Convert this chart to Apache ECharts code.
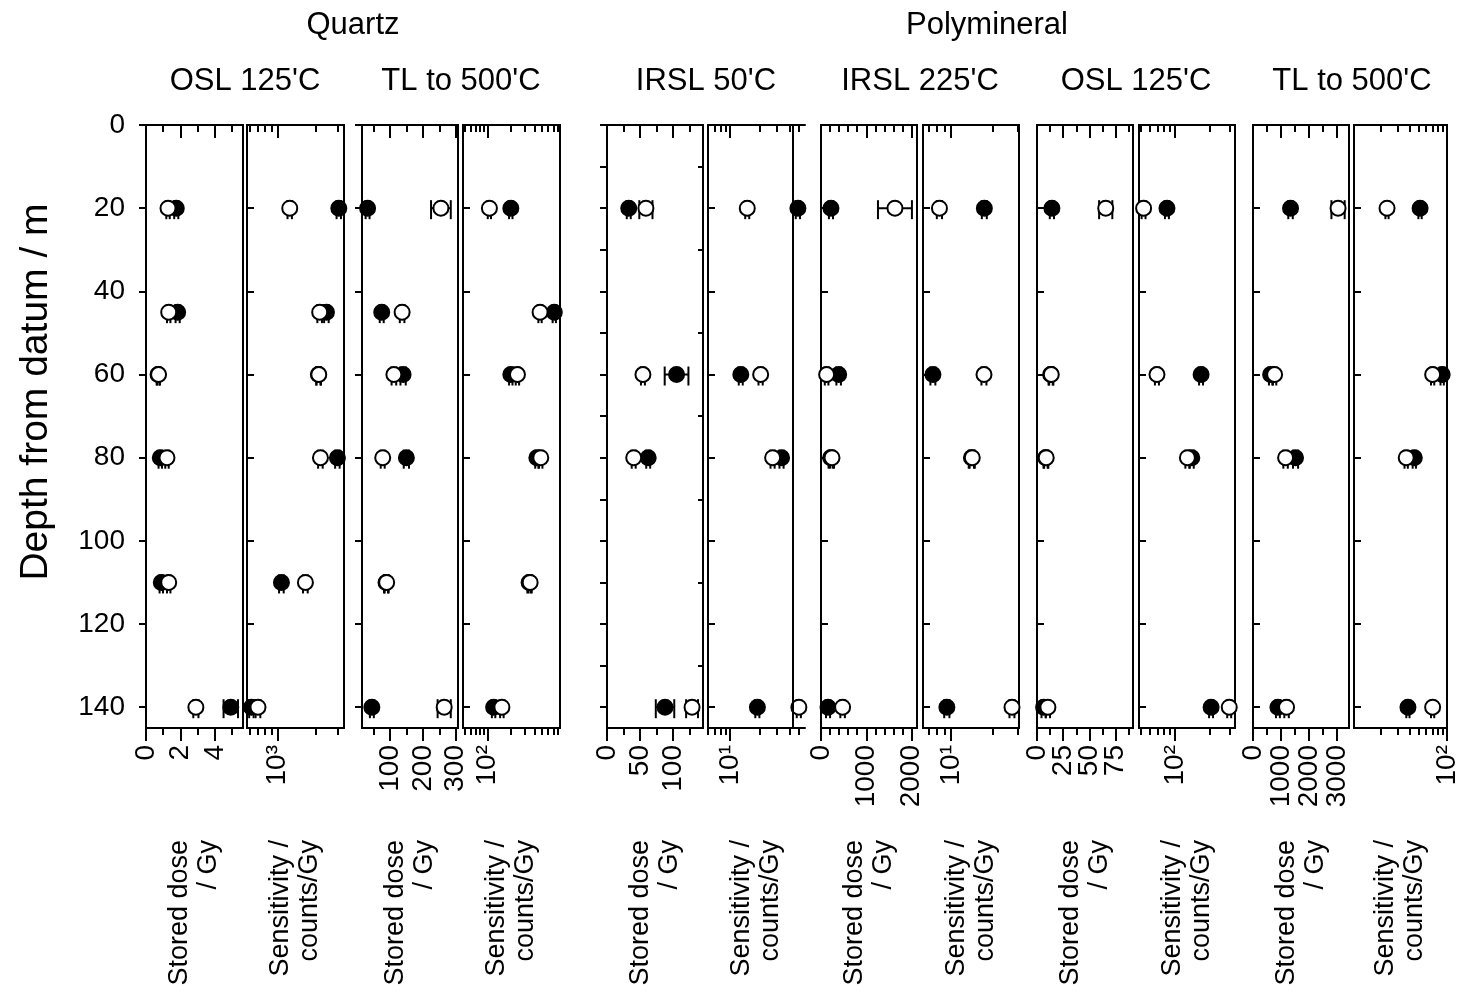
<!DOCTYPE html>
<html>
<head>
<meta charset="utf-8">
<script src="https://cdn.jsdelivr.net/npm/echarts@6/dist/echarts.min.js"></script>
<style>
html, body { margin: 0; padding: 0; background: #fff; }
#chart { width: 1461px; height: 993px; }
</style>
</head>
<body>
<div id="chart"></div>
<script>
// depths of the samples
var quartzDepth = [20, 45, 60, 80, 110, 140];
var polyDepth = [20, 60, 80, 140];

// y axis ticks (depth)
var depthTicks = [0, 20, 40, 60, 80, 100, 120, 140];
var depthTicks10 = [0, 10, 20, 30, 40, 50, 60, 70, 80, 90, 100, 110, 120, 130, 140];
var depthTicksOdd = [10, 30, 50, 70, 90, 110, 130];

// Quartz OSL 125'C - stored dose
var q1Filled = [1.76, 1.84, 0.70, 0.83, 0.89, 4.93];
var q1FilledErr = [0.12, 0.12, 0.08, 0.10, 0.10, 0.42];
var q1Open = [1.28, 1.32, 0.73, 1.22, 1.32, 2.9];
var q1OpenErr = [0.10, 0.10, 0.08, 0.10, 0.10, 0.15];
// Quartz OSL 125'C - sensitivity
var q2Filled = [3040, 2430, 2100, 2965, 1075, 624];
var q2FilledErr = [120, 100, 80, 120, 45, 25];
var q2Open = [1250, 2150, 2115, 2180, 1660, 703];
var q2OpenErr = [50, 90, 85, 90, 70, 30];
// Quartz TL to 500'C - stored dose
var q3Filled = [32, 75, 140, 150, 88, 45];
var q3FilledErr = [6, 6, 8, 8, 6, 6];
var q3Open = [255, 137, 112, 78, 90, 265];
var q3OpenErr = [30, 7, 7, 6, 6, 20];
// Quartz TL to 500'C - sensitivity
var q4Filled = [198, 718, 198, 428, 340, 119];
var q4FilledErr = [10, 35, 10, 20, 17, 6];
var q4Open = [105, 471, 241, 481, 351, 152];
var q4OpenErr = [5, 23, 12, 24, 17, 8];

// Polymineral IRSL 50'C - stored dose
var p5Filled = [33, 105.5, 62.5, 88];
var p5FilledErr = [3, 18, 3, 14];
var p5Open = [59, 54.5, 40.5, 129];
var p5OpenErr = [10, 3, 3, 9];
// Polymineral IRSL 50'C - sensitivity
var p6Filled = [48.9, 12.9, 33.4, 19];
var p6FilledErr = [2.4, 0.6, 1.6, 0.9];
var p6Open = [15, 20.5, 27.1, 50];
var p6OpenErr = [0.7, 1.0, 1.3, 2.4];
// Polymineral IRSL 225'C - stored dose
var p7Filled = [220, 390, 212, 155];
var p7FilledErr = [45, 50, 45, 45];
var p7Open = [1633, 124, 243, 477];
var p7OpenErr = [375, 40, 45, 50];
// Polymineral IRSL 225'C - sensitivity
var p8Filled = [17.3, 7.46, 14.0, 9.37];
var p8FilledErr = [0.7, 0.3, 0.6, 0.4];
var p8Open = [8.3, 17.2, 14.2, 27.2];
var p8OpenErr = [0.35, 0.7, 0.6, 1.1];
// Polymineral OSL 125'C - stored dose
var p9Filled = [14.2, 13.0, 8.2, 6.3];
var p9FilledErr = [2, 2, 2, 2];
var p9Open = [65.5, 13.6, 8.8, 10.4];
var p9OpenErr = [6.3, 2, 2, 2];
// Polymineral OSL 125'C - sensitivity
var p10Filled = [84.6, 169, 140, 207];
var p10FilledErr = [3.4, 6.8, 5.6, 8.3];
var p10Open = [52.7, 69.1, 128, 299];
var p10OpenErr = [2.1, 2.8, 5.1, 12];
// Polymineral TL to 500'C - stored dose
var p11Filled = [1341, 630, 1520, 890];
var p11FilledErr = [80, 60, 90, 70];
var p11Open = [3039, 772, 1164, 1199];
var p11OpenErr = [237, 60, 80, 80];
// Polymineral TL to 500'C - sensitivity
var p12Filled = [51.8, 88.9, 45, 38.5];
var p12FilledErr = [2.1, 3.6, 1.8, 1.5];
var p12Open = [23.1, 70.4, 36.9, 70.4];
var p12OpenErr = [0.9, 2.8, 1.5, 2.8];

// x axis ticks and labels
var t1Major = [0, 2, 4], t1Labels = ['0', '2', '4'], t1Minor = [1, 3, 5];
var t2Major = [1000], t2Labels = ['10³'], t2Minor = [600, 700, 800, 900, 2000, 3000];
var t3Major = [100, 200, 300], t3Labels = ['100', '200', '300'], t3Minor = [50, 150, 250];
var t4Major = [100], t4Labels = ['10²'], t4Minor = [50, 60, 70, 80, 90, 200, 300, 400, 500, 600, 700, 800];
var t5Major = [0, 50, 100], t5Labels = ['0', '50', '100'], t5Minor = [25, 75, 125];
var t6Major = [10], t6Labels = ['10¹'], t6Minor = [6, 7, 8, 9, 20, 30, 40, 50];
var t7Major = [0, 1000, 2000], t7Labels = ['0', '1000', '2000'], t7Minor = [200, 400, 600, 800, 1200, 1400, 1600, 1800];
var t8Major = [10], t8Labels = ['10¹'], t8Minor = [7, 8, 9, 20, 30];
var t9Major = [0, 25, 50, 75], t9Labels = ['0', '25', '50', '75'], t9Minor = [12.5, 37.5, 62.5, 87.5];
var t10Major = [100], t10Labels = ['10²'], t10Minor = [50, 60, 70, 80, 90, 200, 300];
var t11Major = [0, 1000, 2000, 3000], t11Labels = ['0', '1000', '2000', '3000'], t11Minor = [500, 1500, 2500];
var t12Major = [100], t12Labels = ['10²'], t12Minor = [20, 30, 40, 50, 60, 70, 80, 90];

var FONT = "'Liberation Sans', Arial, Helvetica, sans-serif";
var DOSE = 'Stored dose\n/ Gy';
var SENS = 'Sensitivity /\ncounts/Gy';

var panels = [
    {left: 146, width: 97, type: 'value', min: 0, max: 5.64, major: t1Major, labels: t1Labels, minor: t1Minor, name: DOSE, depth: quartzDepth, f: q1Filled, fe: q1FilledErr, o: q1Open, oe: q1OpenErr, yTicks: depthTicks, yInside: false},
    {left: 247, width: 97, type: 'log', min: 576, max: 3340, major: t2Major, labels: t2Labels, minor: t2Minor, name: SENS, depth: quartzDepth, f: q2Filled, fe: q2FilledErr, o: q2Open, oe: q2OpenErr, yTicks: depthTicks, yInside: true},
    {left: 362, width: 96, type: 'value', min: 15, max: 307, major: t3Major, labels: t3Labels, minor: t3Minor, name: DOSE, depth: quartzDepth, f: q3Filled, fe: q3FilledErr, o: q3Open, oe: q3OpenErr, yTicks: depthTicks, yInside: false},
    {left: 463, width: 97, type: 'log', min: 48, max: 850, major: t4Major, labels: t4Labels, minor: t4Minor, name: SENS, depth: quartzDepth, f: q4Filled, fe: q4FilledErr, o: q4Open, oe: q4OpenErr, yTicks: depthTicks, yInside: true},
    {left: 607, width: 96, type: 'value', min: 0, max: 145.6, major: t5Major, labels: t5Labels, minor: t5Minor, name: DOSE, depth: polyDepth, f: p5Filled, fe: p5FilledErr, o: p5Open, oe: p5OpenErr, yTicks: depthTicks10, yInside: false, rightTicks: depthTicksOdd},
    {left: 708, width: 97, type: 'log', min: 6, max: 57.7, major: t6Major, labels: t6Labels, minor: t6Minor, name: SENS, depth: polyDepth, f: p6Filled, fe: p6FilledErr, o: p6Open, oe: p6OpenErr, yTicks: depthTicks, yInside: true, boxRight: 43.6},
    {left: 821, width: 96, type: 'value', min: 0, max: 2120, major: t7Major, labels: t7Labels, minor: t7Minor, name: DOSE, depth: polyDepth, f: p7Filled, fe: p7FilledErr, o: p7Open, oe: p7OpenErr, yTicks: depthTicks, yInside: true},
    {left: 923, width: 96, type: 'log', min: 6.34, max: 30.5, major: t8Major, labels: t8Labels, minor: t8Minor, name: SENS, depth: polyDepth, f: p8Filled, fe: p8FilledErr, o: p8Open, oe: p8OpenErr, yTicks: depthTicks, yInside: true},
    {left: 1037, width: 96, type: 'value', min: 0, max: 91.5, major: t9Major, labels: t9Labels, minor: t9Minor, name: DOSE, depth: polyDepth, f: p9Filled, fe: p9FilledErr, o: p9Open, oe: p9OpenErr, yTicks: depthTicks, yInside: true},
    {left: 1139, width: 96, type: 'log', min: 48, max: 336, major: t10Major, labels: t10Labels, minor: t10Minor, name: SENS, depth: polyDepth, f: p10Filled, fe: p10FilledErr, o: p10Open, oe: p10OpenErr, yTicks: depthTicks, yInside: true},
    {left: 1253, width: 96, type: 'value', min: 0, max: 3430, major: t11Major, labels: t11Labels, minor: t11Minor, name: DOSE, depth: polyDepth, f: p11Filled, fe: p11FilledErr, o: p11Open, oe: p11OpenErr, yTicks: depthTicks, yInside: true},
    {left: 1354, width: 97, type: 'log', min: 10.3, max: 100, major: t12Major, labels: t12Labels, minor: t12Minor, name: SENS, depth: polyDepth, f: p12Filled, fe: p12FilledErr, o: p12Open, oe: p12OpenErr, yTicks: depthTicks, yInside: true}
];

var BLACK = {color: '#000', width: 2};

function makeFmt(major, labels) {
    return function (v) {
        for (var k = 0; k < major.length; k++) {
            if (Math.abs(v - major[k]) <= 1e-6 * Math.max(1, Math.abs(major[k]))) return labels[k];
        }
        return '';
    };
}

function renderErr(params, api) {
    var x = api.value(0), y = api.value(1), e = api.value(2);
    var lo = api.coord([x - e, y]);
    var hi = api.coord([x + e, y]);
    var st = {stroke: '#000', lineWidth: 2};
    return {
        type: 'group',
        children: [
            {type: 'line', shape: {x1: lo[0], y1: lo[1], x2: hi[0], y2: hi[1]}, style: st},
            {type: 'line', shape: {x1: lo[0], y1: lo[1] - 8, x2: lo[0], y2: lo[1] + 11}, style: st},
            {type: 'line', shape: {x1: hi[0], y1: hi[1] - 8, x2: hi[0], y2: hi[1] + 11}, style: st}
        ]
    };
}

var grids = [], xAxes = [], yAxes = [], series = [];

panels.forEach(function (p, i) {
    var open = p.boxRight !== undefined;
    grids.push({left: p.left, top: 125, width: p.width, height: 603, show: !open, borderColor: '#000', borderWidth: 2, backgroundColor: 'transparent'});

    var fmt = makeFmt(p.major, p.labels);
    function xBase(pos, ticks, len, inside, withLine, labelValues) {
        var a = {
            gridIndex: i, type: p.type, min: p.min, max: p.max, position: pos,
            splitLine: {show: false},
            axisLine: {show: withLine && open, onZero: false, lineStyle: BLACK},
            axisTick: {show: true, inside: inside, length: len, customValues: ticks, lineStyle: BLACK},
            axisLabel: {show: false},
            axisPointer: {show: false}
        };
        if (labelValues && labelValues.length) {
            a.axisLabel = {
                show: true, customValues: labelValues, rotate: 90, margin: 17, fontSize: 28, fontFamily: FONT, color: '#000',
                hideOverlap: false, formatter: fmt
            };
        }
        if (p.type === 'log') a.logBase = 10;
        return a;
    }
    // labels split over two axes so that neighbours never get hidden
    var labelsA = p.major.filter(function (v, k) { return k % 2 === 0; });
    var labelsB = p.major.filter(function (v, k) { return k % 2 === 1; });

    var xi = xAxes.length;
    var bottom = xBase('bottom', p.major, 13, false, true, labelsA);
    bottom.name = p.name;
    bottom.nameLocation = 'middle';
    bottom.nameRotate = 90;
    bottom.nameGap = 112;
    bottom.nameMoveOverlap = false;
    bottom.nameTextStyle = {fontSize: 27, fontFamily: FONT, color: '#000', lineHeight: 29};
    xAxes.push(bottom);
    xAxes.push(xBase('bottom', p.minor, 7, false, false, labelsB));
    xAxes.push(xBase('top', p.major, 13, true, true));
    xAxes.push(xBase('top', p.minor, 7, true, false));

    var yi = yAxes.length;
    yAxes.push({
        gridIndex: i, type: 'value', inverse: true, min: 0, max: 145, position: 'left',
        splitLine: {show: false},
        axisLine: {show: open, onZero: false, lineStyle: BLACK},
        axisTick: {show: true, inside: p.yInside, length: 7, customValues: p.yTicks, lineStyle: BLACK},
        axisLabel: {show: i === 0, customValues: depthTicks, fontSize: 28, fontFamily: FONT, color: '#000', margin: 21},
        axisPointer: {show: false}
    });
    if (p.rightTicks) {
        yAxes.push({
            gridIndex: i, type: 'value', inverse: true, min: 0, max: 145, position: 'right',
            splitLine: {show: false},
            axisLine: {show: false, onZero: false},
            axisTick: {show: true, inside: true, length: 5, customValues: p.rightTicks, lineStyle: BLACK},
            axisLabel: {show: false}
        });
    }

    var fPts = p.f.map(function (v, k) { return [v, p.depth[k]]; });
    var oPts = p.o.map(function (v, k) { return [v, p.depth[k]]; });
    var fErr = p.f.map(function (v, k) { return [v, p.depth[k], p.fe[k]]; });
    var oErr = p.o.map(function (v, k) { return [v, p.depth[k], p.oe[k]]; });

    series.push({type: 'custom', xAxisIndex: xi, yAxisIndex: yi, renderItem: renderErr, data: fErr, silent: true, clip: false});
    var fs = {
        type: 'scatter', xAxisIndex: xi, yAxisIndex: yi, data: fPts, symbol: 'circle', symbolSize: 15, silent: true, clip: false,
        itemStyle: {color: '#000', borderColor: '#000', borderWidth: 2, opacity: 1}
    };
    if (open) {
        fs.markLine = {silent: true, symbol: 'none', label: {show: false}, lineStyle: {color: '#000', width: 2, type: 'solid'}, data: [{xAxis: p.boxRight}]};
    }
    series.push(fs);
    series.push({type: 'custom', xAxisIndex: xi, yAxisIndex: yi, renderItem: renderErr, data: oErr, silent: true, clip: false});
    series.push({
        type: 'scatter', xAxisIndex: xi, yAxisIndex: yi, data: oPts, symbol: 'circle', symbolSize: 15, silent: true, clip: false,
        itemStyle: {color: '#fff', borderColor: '#000', borderWidth: 2, opacity: 1}
    });
});

function txt(s, x, y, size, rot) {
    return {
        type: 'text', x: x, y: y, rotation: rot || 0, silent: true,
        style: {text: s, fill: '#000', fontSize: size, fontFamily: FONT, align: 'center', verticalAlign: 'middle', textAlign: 'center', textVerticalAlign: 'middle'}
    };
}

var option = {
    animation: false,
    backgroundColor: '#fff',
    grid: grids,
    xAxis: xAxes,
    yAxis: yAxes,
    series: series,
    graphic: [
        txt('Quartz', 353, 25, 31),
        txt('Polymineral', 987, 25, 31),
        txt("OSL 125'C", 245, 81, 31),
        txt("TL to 500'C", 461, 81, 31),
        txt("IRSL 50'C", 706, 81, 31),
        txt("IRSL 225'C", 920, 81, 31),
        txt("OSL 125'C", 1136, 81, 31),
        txt("TL to 500'C", 1352, 81, 31),
        txt('Depth from datum / m', 36, 392, 39, Math.PI / 2)
    ]
};

var chart = echarts.init(document.getElementById('chart'));
chart.setOption(option);
</script>
</body>
</html>
